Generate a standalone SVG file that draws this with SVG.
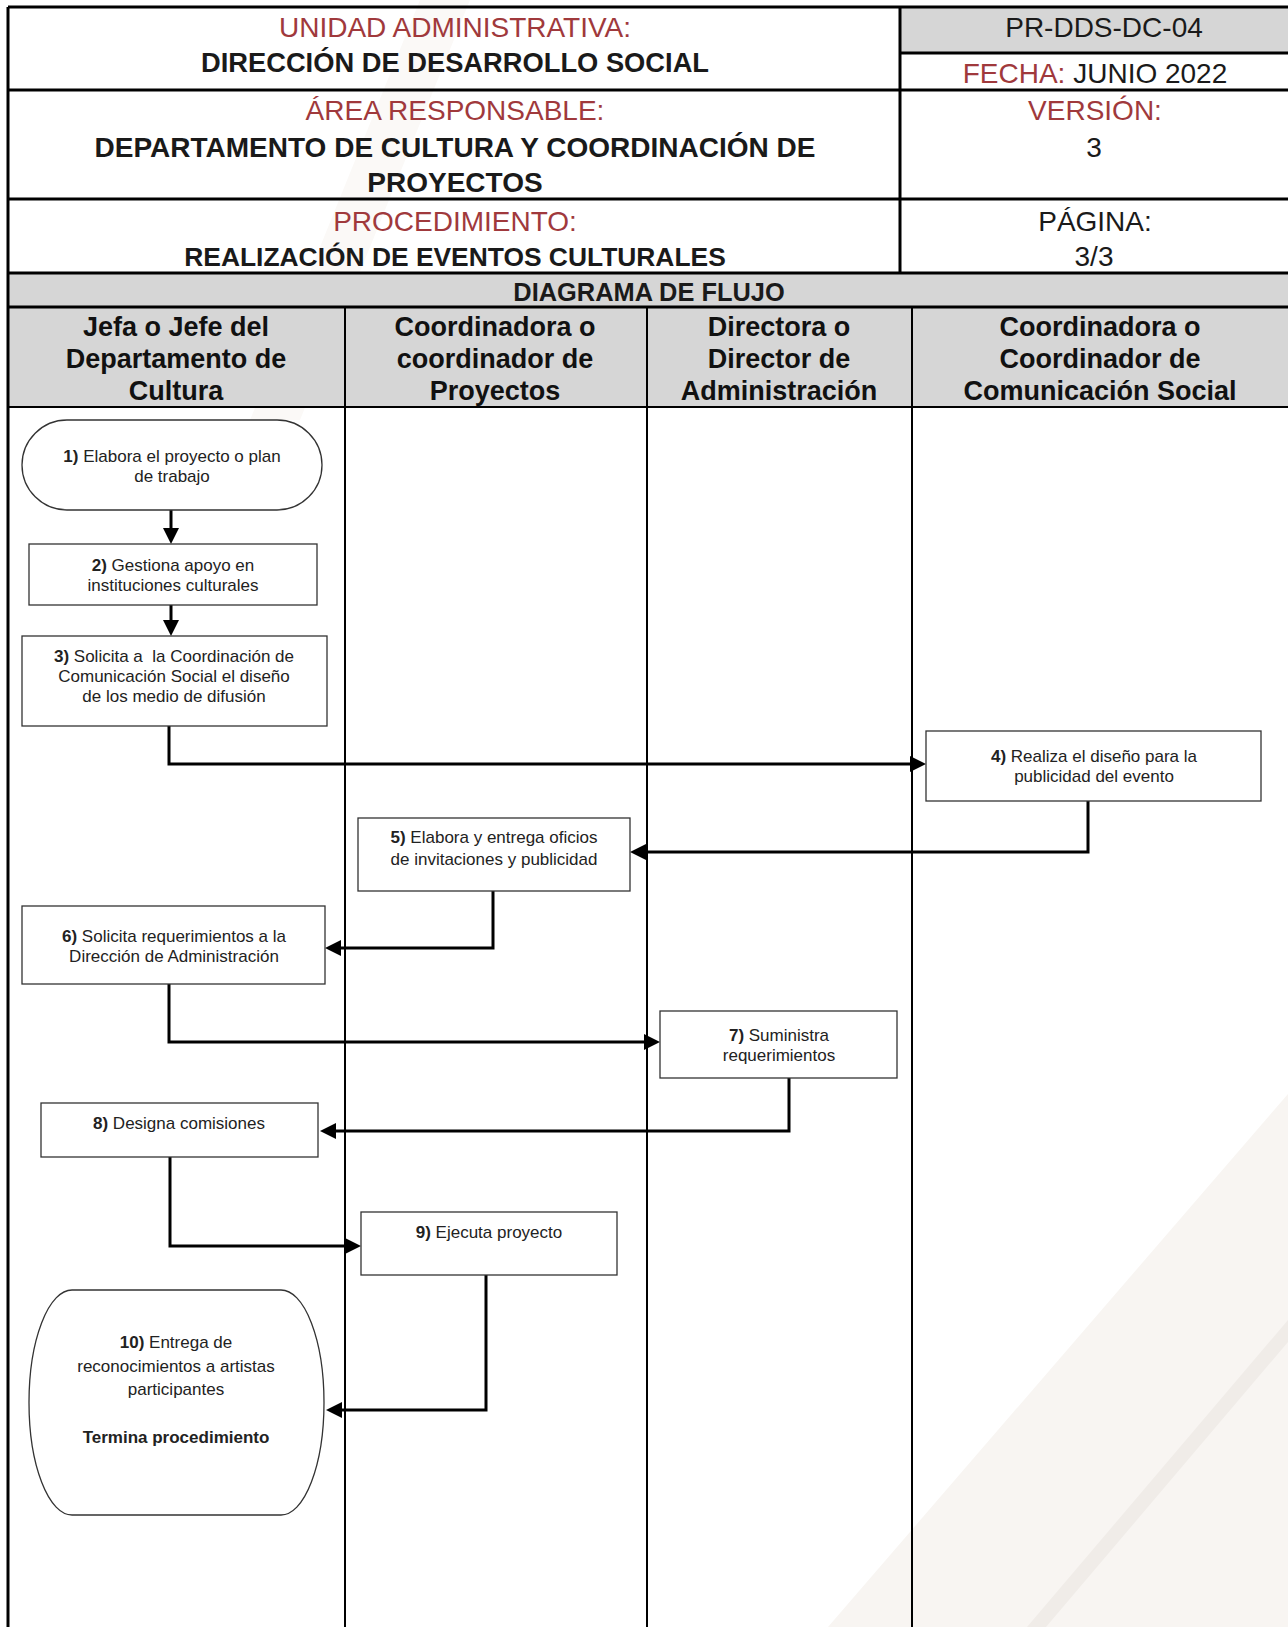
<svg xmlns="http://www.w3.org/2000/svg" width="1288" height="1627" viewBox="0 0 1288 1627">
<style>
.hdr{font-family:"Liberation Sans",Arial,sans-serif;font-size:28px;fill:#1a1a1a;text-anchor:middle}
.red{fill:#a0393c}
.b{font-weight:bold}
.lane{font-family:"Liberation Sans",Arial,sans-serif;font-size:27px;font-weight:bold;fill:#111;text-anchor:middle}
.nt{font-family:"Liberation Sans",Arial,sans-serif;font-size:17px;fill:#222;text-anchor:middle}
.box{fill:#fff;stroke:#333;stroke-width:1.3}
.grid{stroke:#000;stroke-width:3;fill:none}
.lanel{stroke:#000;stroke-width:2;fill:none}
.con{fill:none;stroke:#000;stroke-width:3;marker-end:url(#ah)}
</style>
<defs>
<marker id="ah" markerUnits="userSpaceOnUse" viewBox="0 0 16 16" markerWidth="16" markerHeight="16" refX="6" refY="8" orient="auto">
<path d="M0,0 L16,8 L0,16 z" fill="#000"/>
</marker>
</defs>
<rect width="1288" height="1627" fill="#fff"/>
<g id="watermark">
<polygon points="1288,1094 828,1627 1288,1627" fill="#f8f5f2"/>
<polygon points="1288,1320 1288,1342 1046,1627 1027,1627" fill="#f0ece8"/>
<polygon points="420,0 470,0 300,420 250,420" fill="#fbf9f7"/>
</g>
<g id="header">
<rect x="900" y="7" width="388" height="46" fill="#d6d6d6"/>
<rect x="8" y="273" width="1280" height="34" fill="#d6d6d6"/>
<rect x="8" y="307" width="1280" height="100" fill="#d6d6d6"/>
<path class="grid" d="M8,7 H1288 M8,90 H1288 M8,199 H1288 M8,273 H1288 M8,307 H1288 M900,53 H1288 M900,7 V273 M8,7 V1627"/>
<text class="hdr red" x="455" y="37">UNIDAD ADMINISTRATIVA:</text>
<text class="hdr b" x="455" y="72" style="font-size:27.3px">DIRECCIÓN DE DESARROLLO SOCIAL</text>
<text class="hdr" x="1104" y="37">PR-DDS-DC-04</text>
<text class="hdr" x="1095" y="83"><tspan class="red">FECHA:</tspan> JUNIO 2022</text>
<text class="hdr red" x="455" y="120">ÁREA RESPONSABLE:</text>
<text class="hdr b" x="455" y="157">DEPARTAMENTO DE CULTURA Y COORDINACIÓN DE</text>
<text class="hdr b" x="455" y="192">PROYECTOS</text>
<text class="hdr red" x="1095" y="120">VERSIÓN:</text>
<text class="hdr" x="1094" y="157">3</text>
<text class="hdr red" x="455" y="231">PROCEDIMIENTO:</text>
<text class="hdr b" x="455" y="266" style="font-size:26.4px">REALIZACIÓN DE EVENTOS CULTURALES</text>
<text class="hdr" x="1095" y="231">PÁGINA:</text>
<text class="hdr" x="1094" y="266">3/3</text>
<text class="hdr b" x="649" y="301" style="font-size:25.4px">DIAGRAMA DE FLUJO</text>
</g>
<g id="lanes">
<path class="lanel" d="M8,407 H1288 M345,307 V1627 M647,307 V1627 M912,307 V1627"/>
<text class="lane" x="176" y="336">Jefa o Jefe del</text>
<text class="lane" x="176" y="368">Departamento de</text>
<text class="lane" x="176" y="400">Cultura</text>
<text class="lane" x="495" y="336">Coordinadora o</text>
<text class="lane" x="495" y="368">coordinador de</text>
<text class="lane" x="495" y="400">Proyectos</text>
<text class="lane" x="779" y="336">Directora o</text>
<text class="lane" x="779" y="368">Director de</text>
<text class="lane" x="779" y="400">Administración</text>
<text class="lane" x="1100" y="336">Coordinadora o</text>
<text class="lane" x="1100" y="368">Coordinador de</text>
<text class="lane" x="1100" y="400">Comunicación Social</text>
</g>
<g id="connectors">
<path class="con" d="M171,510 V534"/>
<path class="con" d="M171,605 V626"/>
<path class="con" d="M169,726 V764 H916"/>
<path class="con" d="M1088,801 V852 H640"/>
<path class="con" d="M493,891 V948 H335"/>
<path class="con" d="M169,984 V1042 H650"/>
<path class="con" d="M789,1078 V1131 H330"/>
<path class="con" d="M170,1157 V1246 H351"/>
<path class="con" d="M486,1275 V1410 H336"/>
</g>
<g id="n1">
<rect class="box" x="22" y="420" width="300" height="90" rx="45" ry="45"/>
<text class="nt" x="172" y="462"><tspan class="b">1)</tspan> Elabora el proyecto o plan</text>
<text class="nt" x="172" y="482">de trabajo</text>
</g>
<g id="n2">
<rect class="box" x="29" y="544" width="288" height="61"/>
<text class="nt" x="173" y="571"><tspan class="b">2)</tspan> Gestiona apoyo en</text>
<text class="nt" x="173" y="591">instituciones culturales</text>
</g>
<g id="n3">
<rect class="box" x="22" y="636" width="305" height="90"/>
<text class="nt" x="174" y="662"><tspan class="b">3)</tspan> Solicita a&#160; la Coordinación de</text>
<text class="nt" x="174" y="682">Comunicación Social el diseño</text>
<text class="nt" x="174" y="702">de los medio de difusión</text>
</g>
<g id="n4">
<rect class="box" x="926" y="731" width="335" height="70"/>
<text class="nt" x="1094" y="762"><tspan class="b">4)</tspan> Realiza el diseño para la</text>
<text class="nt" x="1094" y="782">publicidad del evento</text>
</g>
<g id="n5">
<rect class="box" x="358" y="818" width="272" height="73"/>
<text class="nt" x="494" y="843"><tspan class="b">5)</tspan> Elabora y entrega oficios</text>
<text class="nt" x="494" y="865">de invitaciones y publicidad</text>
</g>
<g id="n6">
<rect class="box" x="22" y="906" width="303" height="78"/>
<text class="nt" x="174" y="942"><tspan class="b">6)</tspan> Solicita requerimientos a la</text>
<text class="nt" x="174" y="962">Dirección de Administración</text>
</g>
<g id="n7">
<rect class="box" x="660" y="1011" width="237" height="67"/>
<text class="nt" x="779" y="1041"><tspan class="b">7)</tspan> Suministra</text>
<text class="nt" x="779" y="1061">requerimientos</text>
</g>
<g id="n8">
<rect class="box" x="41" y="1103" width="277" height="54"/>
<text class="nt" x="179" y="1129"><tspan class="b">8)</tspan> Designa comisiones</text>
</g>
<g id="n9">
<rect class="box" x="361" y="1212" width="256" height="63"/>
<text class="nt" x="489" y="1238"><tspan class="b">9)</tspan> Ejecuta proyecto</text>
</g>
<g id="n10">
<path class="box" d="M72,1290 H281 A43,112.5 0 0 1 281,1515 H72 A43,112.5 0 0 1 72,1290 Z"/>
<text class="nt" x="176" y="1348"><tspan class="b">10)</tspan> Entrega de</text>
<text class="nt" x="176" y="1372">reconocimientos a artistas</text>
<text class="nt" x="176" y="1395">participantes</text>
<text class="nt b" x="176" y="1443">Termina procedimiento</text>
</g>
</svg>
